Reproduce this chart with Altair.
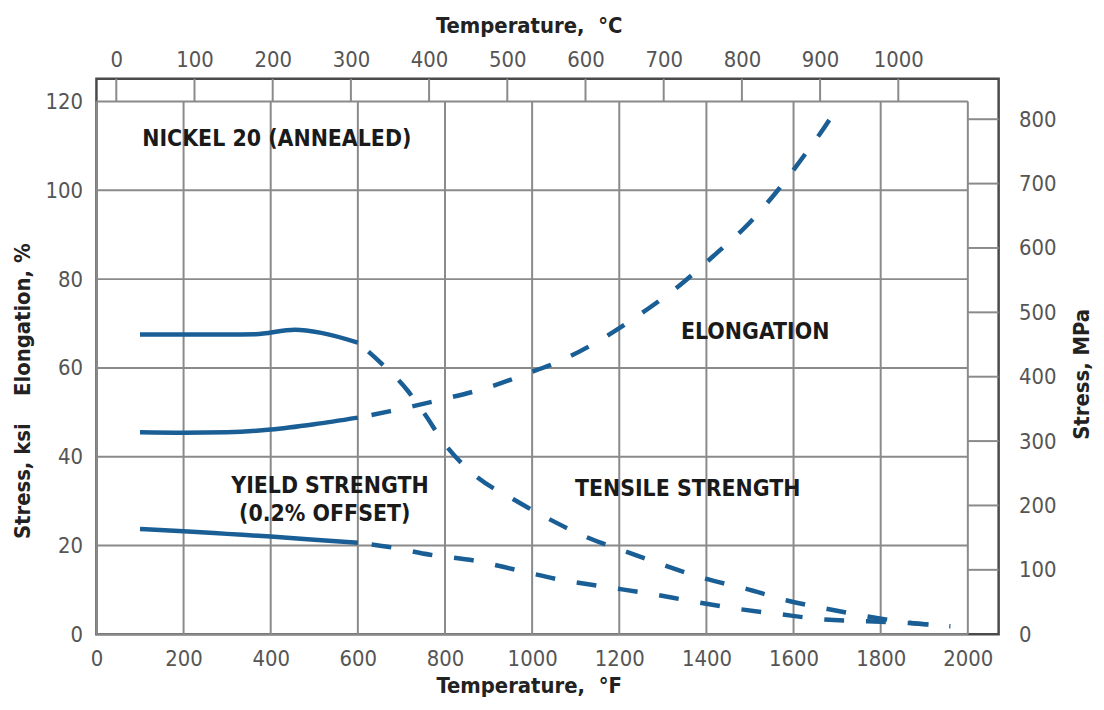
import altair as alt
import pandas as pd

# ---------------- axis tick values ----------------
temp_f_ticks = [0, 200, 400, 600, 800, 1000, 1200, 1400, 1600, 1800, 2000]
value_ticks = [0, 20, 40, 60, 80, 100, 120]
mpa_ticks = [0, 100, 200, 300, 400, 500, 600, 700, 800]
temp_c_ticks = [0, 100, 200, 300, 400, 500, 600, 700, 800, 900, 1000]

# ---------------- series ----------------
tensile_temp = [100, 200, 300, 365, 456, 516, 600, 652, 714, 752, 800, 866, 957,
                1038, 1124, 1215, 1307, 1398, 1489, 1585, 1672, 1770, 1865, 1960]
tensile_ksi = [67.5, 67.5, 67.5, 67.6, 68.6, 67.9, 65.7, 61.2, 54.9, 49.8, 42.8, 36.0, 30.4,
               26.0, 21.9, 18.6, 15.4, 12.5, 10.3, 7.6, 5.8, 4.0, 2.6, 1.8]

yield_temp = [100, 200, 300, 400, 500, 600, 668, 766, 866, 972, 1063, 1165, 1266,
              1368, 1466, 1569, 1672, 1770, 1865, 1960]
yield_ksi = [23.7, 23.2, 22.6, 22.0, 21.3, 20.6, 19.7, 17.9, 16.6, 14.3, 12.3, 10.7, 9.2,
             7.4, 5.8, 4.5, 3.3, 2.9, 2.5, 1.8]

elong_temp = [100, 200, 300, 400, 500, 600, 672, 789, 896, 980, 1074, 1165, 1254,
              1341, 1416, 1494, 1562, 1624, 1683, 1705]
elong_pct = [45.5, 45.4, 45.5, 46.1, 47.3, 48.8, 50.2, 52.8, 55.5, 58.4, 62.0, 66.8, 72.5,
             78.8, 85.2, 92.2, 99.8, 107.8, 116.0, 119.5]

solid_limit_f = 600  # measured data (solid) up to here, dashed beyond

annot_text = ["NICKEL 20 (ANNEALED)", "ELONGATION", "TENSILE STRENGTH",
              "YIELD STRENGTH", "(0.2% OFFSET)"]
annot_temp = [414, 1512, 1357, 536, 524]
annot_val = [111.6, 68.1, 32.7, 33.4, 27.1]

NB = "\u00a0"
title_f = "Temperature," + NB + NB + "°F"
title_c = "Temperature," + NB + NB + "°C"
title_left = "Stress," + NB + "ksi" + NB * 4 + "Elongation," + NB + "%"
title_right = "Stress," + NB + "MPa"

# ---------------- geometry / style ----------------
W, H = 908, 559
X_MAX = 2000 * W / 877.0
Y_MAX = H / 4.467
KSI_PER_MPA = 1 / 6.895
C_DOMAIN = [-25.4, 1128.3]

BLUE = "#1a5e96"
GRID = "#8a8a8a"
FONT = "DejaVu Sans Condensed, Liberation Sans Narrow, Roboto Condensed, sans-serif"
LABEL_COLOR = "#555555"
TITLE_COLOR = "#222222"

# ---------------- data frames ----------------
rows = []
for name, ts, vs in [("tensile", tensile_temp, tensile_ksi),
                     ("yield", yield_temp, yield_ksi),
                     ("elongation", elong_temp, elong_pct)]:
    for t, v in zip(ts, vs):
        rows.append({"series": name, "temp": t, "val": v})
curves = pd.DataFrame(rows)
solid_df = curves[curves["temp"] <= solid_limit_f]
dashed_df = curves[curves["temp"] >= solid_limit_f]

vgrid_df = pd.DataFrame({"temp": temp_f_ticks})
hgrid_df = pd.DataFrame({"val": value_ticks})
mpa_rule_df = pd.DataFrame({"val": [m * KSI_PER_MPA for m in mpa_ticks if m > 0]})
mpa_df = pd.DataFrame({"mpa": mpa_ticks})
c_df = pd.DataFrame({"c": temp_c_ticks})
annot_df = pd.DataFrame({"text": annot_text, "temp": annot_temp, "val": annot_val})

x_scale = alt.Scale(domain=[0, X_MAX], nice=False, zero=False)
y_scale = alt.Scale(domain=[0, Y_MAX], nice=False, zero=False)

x_axis = alt.Axis(values=temp_f_ticks, format="d", title=title_f, grid=False, ticks=False,
                  domain=False, labelPadding=15, labelFlush=False, orient="bottom",
                  titleX=435, titleY=59, titleBaseline="alphabetic", titleAlign="center")
y_axis = alt.Axis(values=value_ticks, format="d", title=title_left, grid=False,
                  ticks=False, domain=False, labelPadding=14, labelFlush=False,
                  titleX=-62, titleY=314, titleBaseline="bottom", titleAngle=270,
                  titleAlign="center")


def X(field="temp"):
    return alt.X(f"{field}:Q", scale=x_scale, axis=x_axis)


def Y(field="val"):
    return alt.Y(f"{field}:Q", scale=y_scale, axis=y_axis)


vgrid = alt.Chart(vgrid_df).mark_rule(color=GRID, strokeWidth=2).encode(
    x=X(), y=alt.datum(0), y2=alt.datum(120))
hgrid = alt.Chart(hgrid_df).mark_rule(color=GRID, strokeWidth=2).encode(
    y=Y(), x=alt.datum(0), x2=alt.datum(2000))
mpa_rules = alt.Chart(mpa_rule_df).mark_rule(color=GRID, strokeWidth=2).encode(
    y=Y(), x=alt.datum(2000), x2=alt.datum(X_MAX))

solid = alt.Chart(solid_df).mark_line(color=BLUE, strokeWidth=4.5, interpolate="monotone",
                                      strokeCap="butt").encode(
    x=X(), y=Y(), detail="series:N")
dashed = alt.Chart(dashed_df).mark_line(color=BLUE, strokeWidth=4.5, interpolate="monotone",
                                        strokeDash=[20, 22], strokeDashOffset=28,
                                        strokeCap="butt").encode(
    x=X(), y=Y(), detail="series:N")

texts = alt.Chart(annot_df).mark_text(font=FONT, fontSize=23, fontWeight="bold",
                                      color="#1a1a1a", align="center",
                                      baseline="middle").encode(
    x=X(), y=Y(), text="text:N")

main = alt.layer(vgrid, hgrid, mpa_rules, solid, dashed, texts)

celsius = alt.Chart(c_df).mark_rule(color=GRID, strokeWidth=2).encode(
    x=alt.X("c:Q", scale=alt.Scale(domain=C_DOMAIN, nice=False, zero=False),
            axis=alt.Axis(orient="top", values=temp_c_ticks, format="d", title=title_c,
                          grid=False, ticks=False, domain=False, labelPadding=7,
                          labelFlush=False, titleX=435, titleY=-47,
                          titleBaseline="alphabetic", titleAlign="center")),
    y=alt.datum(120), y2=alt.datum(Y_MAX))

inner = alt.layer(main, celsius).resolve_scale(x="independent")

mpa_axis = alt.Chart(mpa_df).mark_rule(opacity=0).encode(
    y=alt.Y("mpa:Q", scale=alt.Scale(domain=[0, Y_MAX / KSI_PER_MPA], nice=False, zero=False),
            axis=alt.Axis(orient="right", values=mpa_ticks, format="d", title=title_right,
                          grid=False, ticks=False, domain=False, labelPadding=20,
                          labelFlush=False, titleAngle=270, titleX=90, titleY=297,
                          titleBaseline="alphabetic", titleAlign="center")))

chart = alt.layer(inner, mpa_axis).resolve_scale(y="independent").properties(
    width=W, height=H,
    autosize=alt.AutoSizeParams(type="none"),
    padding={"left": 89, "top": 69, "right": 98, "bottom": 64},
    background="white",
).configure_view(
    stroke="#4a4a4a", strokeWidth=2.5
).configure_axis(
    labelFont=FONT, labelFontSize=22, labelColor=LABEL_COLOR,
    titleFont=FONT, titleFontSize=22, titleFontWeight="bold", titleColor=TITLE_COLOR,
)

chart.save("out.html", embed_options={"renderer": "svg", "actions": False})
